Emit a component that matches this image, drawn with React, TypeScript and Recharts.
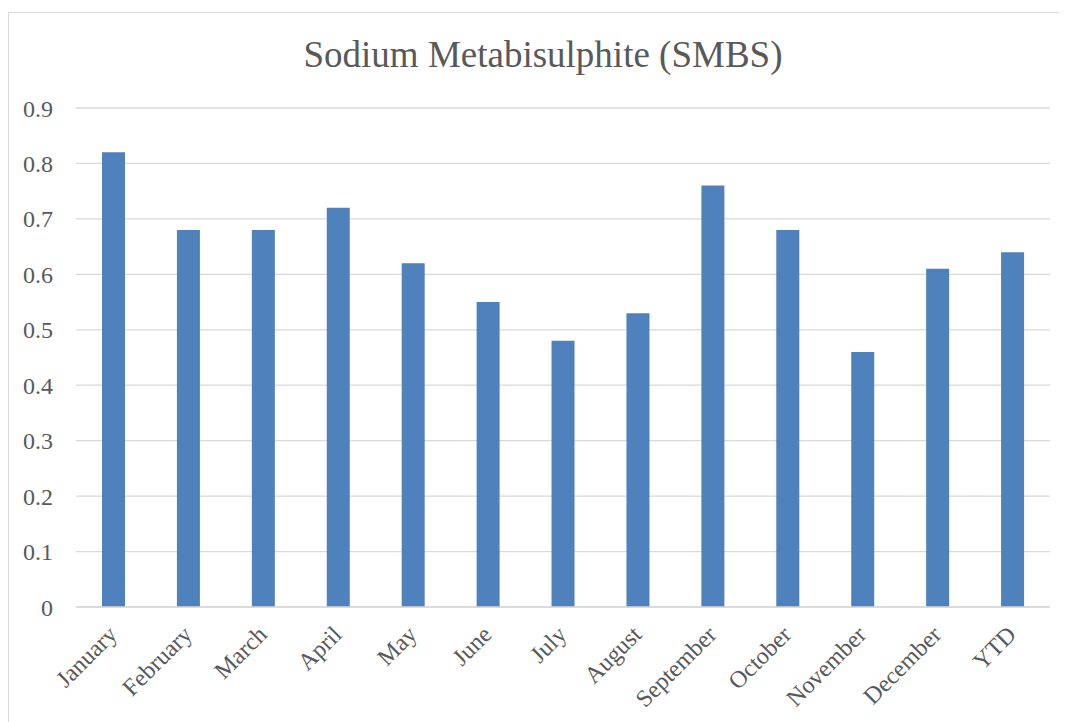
import React from "react";
import { BarChart, Bar, XAxis, YAxis, CartesianGrid } from "recharts";

const months = [
  "January", "February", "March", "April", "May", "June", "July",
  "August", "September", "October", "November", "December", "YTD",
];
const smbs = [0.82, 0.68, 0.68, 0.72, 0.62, 0.55, 0.48, 0.53, 0.76, 0.68, 0.46, 0.61, 0.64];
const yTicks = [0, 0.1, 0.2, 0.3, 0.4, 0.5, 0.6, 0.7, 0.8, 0.9];

const data = months.map((m, i) => ({ month: m, value: smbs[i] }));

const FONT = "'Liberation Serif', 'Times New Roman', serif";
const TEXT = "#595959";
const GRID = "#d9d9d9";

// Month label rotated 45° so that it ends just under its bar
function MonthTick(props: any) {
  const { x, y, payload } = props;
  return (
    <g transform={`translate(${x + 5},${y + 13})`}>
      <text
        textAnchor="end"
        transform="rotate(-45)"
        fontFamily={FONT}
        fontSize={24}
        fill={TEXT}
      >
        {payload.value}
      </text>
    </g>
  );
}

export default function App() {
  return (
    <div
      style={{
        position: "relative",
        width: 1067,
        height: 722,
        marginLeft: -8,
        marginTop: -8,
        overflow: "hidden",
        background: "#fff",
      }}
    >
      <div
        style={{
          position: "absolute",
          left: 8,
          top: 12,
          width: 1200,
          height: 900,
          border: `1px solid ${GRID}`,
        }}
      />
      <svg
        width={1067}
        height={100}
        style={{ position: "absolute", left: 0, top: 0 }}
      >
        <text
          x={543}
          y={67}
          textAnchor="middle"
          fontFamily={FONT}
          fontSize={37}
          fill={TEXT}
        >
          Sodium Metabisulphite (SMBS)
        </text>
      </svg>
      <div style={{ position: "absolute", left: 0, top: 0 }}>
        <BarChart
          width={1067}
          height={722}
          data={data}
          margin={{ top: 108, right: 17, bottom: 0, left: 0 }}
          barCategoryGap="34.7%"
        >
          <CartesianGrid vertical={false} stroke={GRID} strokeWidth={1.3} />
          <XAxis
            dataKey="month"
            interval={0}
            tickLine={false}
            axisLine={{ stroke: GRID, strokeWidth: 1.3 }}
            tickSize={6}
            tickMargin={10}
            tick={<MonthTick />}
            height={115}
          />
          <YAxis
            domain={[0, 0.9]}
            ticks={yTicks}
            width={76}
            tickLine={false}
            axisLine={false}
            tickSize={6}
            tickMargin={17}
            tick={{ fontFamily: FONT, fontSize: 24, fill: TEXT }}
          />
          <Bar dataKey="value" fill="#4F81BD" isAnimationActive={false} />
        </BarChart>
      </div>
    </div>
  );
}
